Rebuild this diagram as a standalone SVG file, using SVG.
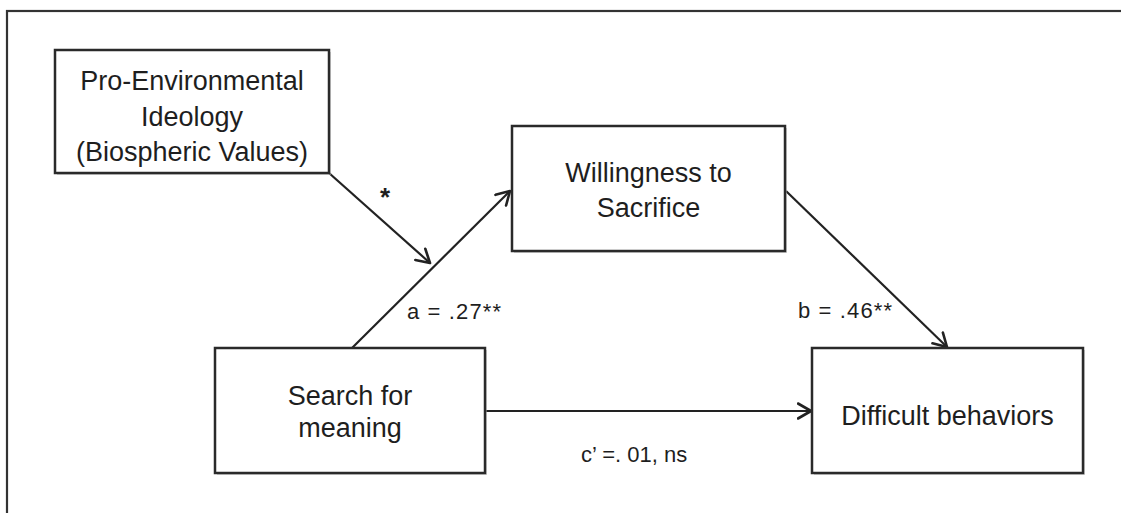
<svg xmlns="http://www.w3.org/2000/svg" width="1121" height="513" viewBox="0 0 1121 513">
  <style>
    .box { fill: #ffffff; stroke: #2a2a2a; stroke-width: 2.5; }
    .shadow { fill: #b0b0b0; opacity: 0.55; }
    .label { font-family: "Liberation Sans", Arial, sans-serif; font-size: 27px; fill: #1e1e1e; text-anchor: middle; }
    .coef { font-family: "Liberation Sans", Arial, sans-serif; font-size: 22px; fill: #1e1e1e; }
    .star { font-family: "Liberation Sans", Arial, sans-serif; font-size: 26px; font-weight: bold; fill: #1e1e1e; text-anchor: middle; }
    .edge { fill: none; stroke: #222222; stroke-width: 2.2; marker-end: url(#arrow); }
    .frame { fill: none; stroke: #333333; stroke-width: 2.2; }
  </style>
  <defs>
    <marker id="arrow" viewBox="0 0 16 18" refX="14.5" refY="9" markerWidth="16" markerHeight="18" markerUnits="userSpaceOnUse" orient="auto">
      <path d="M1.5,1.5 L14.5,9 L1.5,16.5" fill="none" stroke="#222222" stroke-width="2.6" stroke-linecap="round" stroke-linejoin="round"/>
    </marker>
  </defs>
  <rect width="1121" height="513" fill="#ffffff"/>
  <rect class="frame" x="7" y="11" width="1140" height="530"/>

  <g id="connectors">
    <line id="edge-proenv" class="edge" x1="329" y1="173" x2="430" y2="263"/>
    <line id="edge-a" class="edge" x1="352" y1="348" x2="510" y2="191"/>
    <line id="edge-b" class="edge" x1="786" y1="191" x2="947" y2="347"/>
    <line id="edge-c" class="edge" x1="485" y1="411" x2="811" y2="411"/>
    <text class="star" x="385" y="206">*</text>
    <text class="coef" x="407" y="319" textLength="94">a = .27**</text>
    <text class="coef" x="798" y="318" textLength="94">b = .46**</text>
    <text class="coef" x="581" y="462">c’ =. 01, ns</text>
  </g>

  <g id="node-proenv">
    <rect class="shadow" x="57" y="52" width="274" height="123"/>
    <rect class="box" x="55" y="50" width="274" height="123"/>
    <text class="label" x="192" y="90">Pro-Environmental</text>
    <text class="label" x="192" y="125.5">Ideology</text>
    <text class="label" x="192" y="161">(Biospheric Values)</text>
  </g>

  <g id="node-willingness">
    <rect class="shadow" x="514" y="128" width="273" height="125"/>
    <rect class="box" x="512" y="126" width="273" height="125"/>
    <text class="label" x="648.5" y="182">Willingness to</text>
    <text class="label" x="648.5" y="217">Sacrifice</text>
  </g>

  <g id="node-search">
    <rect class="shadow" x="217" y="350" width="270" height="125"/>
    <rect class="box" x="215" y="348" width="270" height="125"/>
    <text class="label" x="350" y="405">Search for</text>
    <text class="label" x="350" y="437">meaning</text>
  </g>

  <g id="node-difficult">
    <rect class="shadow" x="814" y="350" width="271" height="125"/>
    <rect class="box" x="812" y="348" width="271" height="125"/>
    <text class="label" x="947.5" y="425">Difficult behaviors</text>
  </g>
</svg>
